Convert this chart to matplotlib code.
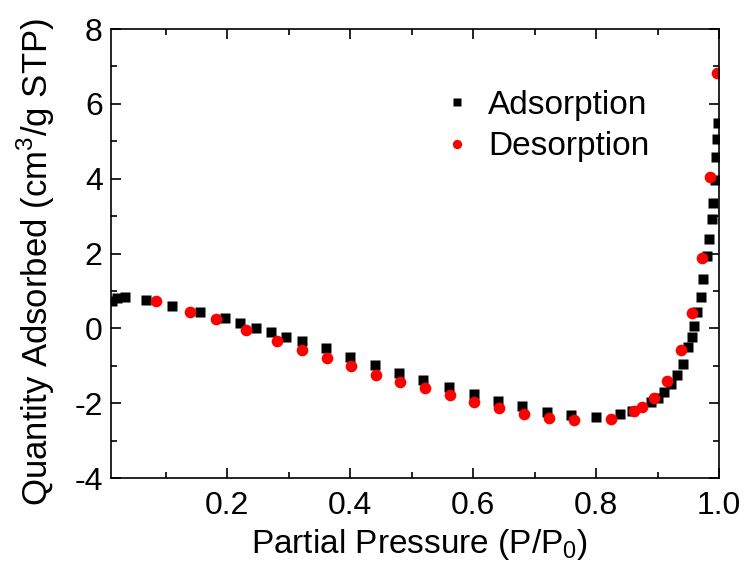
import matplotlib.pyplot as plt
from matplotlib.ticker import MultipleLocator

plt.rcParams['font.family'] = ['Liberation Sans', 'DejaVu Sans']
plt.rcParams['mathtext.fontset'] = 'custom'
plt.rcParams['mathtext.rm'] = 'Liberation Sans'
plt.rcParams['axes.unicode_minus'] = False

# Adsorption branch (black squares)
ads_x = [0.012, 0.02, 0.034, 0.068, 0.111, 0.156, 0.197, 0.221, 0.247, 0.272,
         0.296, 0.322, 0.361, 0.400, 0.441, 0.480, 0.519, 0.561, 0.602, 0.641,
         0.680, 0.720, 0.759, 0.800, 0.839, 0.859, 0.890, 0.900, 0.911, 0.922,
         0.932, 0.941, 0.949, 0.956, 0.960, 0.965, 0.970, 0.974, 0.980, 0.984,
         0.988, 0.990, 0.994, 0.995, 0.997, 0.998]
ads_y = [0.72, 0.80, 0.83, 0.77, 0.61, 0.43, 0.27, 0.13, 0.00, -0.11,
         -0.24, -0.35, -0.53, -0.77, -0.99, -1.18, -1.39, -1.57, -1.76, -1.95,
         -2.08, -2.24, -2.32, -2.37, -2.29, -2.21, -1.98, -1.85, -1.69, -1.49,
         -1.26, -0.94, -0.51, -0.24, 0.05, 0.43, 0.85, 1.31, 1.93, 2.38,
         2.91, 3.36, 3.97, 4.59, 5.07, 5.49]

# Desorption branch (red circles)
des_x = [0.085, 0.140, 0.182, 0.231, 0.281, 0.322, 0.363, 0.402, 0.442, 0.481,
         0.522, 0.563, 0.602, 0.642, 0.683, 0.724, 0.764, 0.824, 0.862, 0.875,
         0.894, 0.915, 0.939, 0.956, 0.972, 0.985, 0.997]
des_y = [0.72, 0.45, 0.24, -0.05, -0.35, -0.59, -0.80, -1.01, -1.25, -1.43,
         -1.60, -1.79, -1.97, -2.13, -2.29, -2.40, -2.45, -2.41, -2.22, -2.11,
         -1.85, -1.41, -0.59, 0.40, 1.87, 4.05, 6.83]

fig = plt.figure(figsize=(7.47, 5.70), dpi=100)
ax = fig.add_axes([0.1486, 0.1614, 0.8139, 0.7876])

ax.plot(ads_x, ads_y, 's', color='black', ms=7.4, mec='none', label='Adsorption')
ax.plot(des_x, des_y, 'o', color='#ff0000', ms=8.4, mec='none', label='Desorption')

ax.set_xlim(0.011, 1.0)
ax.set_ylim(-4, 8)
ax.xaxis.set_major_locator(MultipleLocator(0.2))
ax.xaxis.set_minor_locator(MultipleLocator(0.1))
ax.yaxis.set_major_locator(MultipleLocator(2))
ax.yaxis.set_minor_locator(MultipleLocator(1))
ax.tick_params(which='both', direction='in', top=True, right=True, width=1.2,
               labelsize=23)
ax.tick_params(axis='x', pad=9)
ax.tick_params(axis='y', pad=6)
ax.tick_params(which='major', length=7)
ax.tick_params(which='minor', length=4)
for s in ax.spines.values():
    s.set_linewidth(1.2)

ax.set_xlabel('Partial Pressure (P/P$_0$)', fontsize=24)
ax.set_ylabel('Quantity Adsorbed (cm$^3$/g STP)', fontsize=25)
ax.xaxis.set_label_coords(0.507, -0.109)
ax.yaxis.set_label_coords(-0.089, 0.48)

ax.legend(loc='upper left', bbox_to_anchor=(0.515, 0.902), frameon=False,
          fontsize=24, handletextpad=0.42, labelspacing=0.32, borderpad=0,
          handlelength=1.0, markerscale=0.8)

fig.savefig('out.png', dpi=100)
